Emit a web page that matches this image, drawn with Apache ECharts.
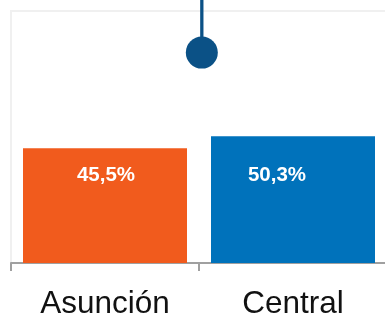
<!DOCTYPE html>
<html>
<head>
<meta charset="utf-8">
<script src="https://cdn.jsdelivr.net/npm/echarts@6/dist/echarts.min.js"></script>
<style>
  html, body { margin: 0; padding: 0; background: #fff; }
  #chart { width: 385px; height: 314px; }
</style>
</head>
<body>
<div id="chart"></div>
<script>
const categories = ['Asunción', 'Central']
const shares = [45.5, 50.3]
const barColors = ['#F15B1D', '#0072BB']
// lollipop marker sitting on the boundary between the two categories
const markerX = 1.015
const markerValue = 83.5
const markerTop = 140

const chart = echarts.init(document.getElementById('chart'))

const option = {
  animation: false,
  grid: {
    left: 11,
    top: 11,
    width: 376,
    bottom: 51,
    show: true,
    borderColor: '#f0f0f0',
    borderWidth: 2,
    outerBoundsMode: 'none'
  },
  xAxis: [
    {
      type: 'category',
      data: categories,
      axisLine: { lineStyle: { color: '#a0a0a0', width: 2 } },
      axisTick: { show: true, length: 8, lineStyle: { color: '#a0a0a0', width: 2 } },
      axisLabel: {
        color: '#111',
        fontSize: 31.5,
        fontFamily: 'Liberation Sans, Arial, sans-serif',
        margin: 25
      }
    },
    {
      type: 'value',
      min: 0,
      max: 2,
      show: false
    }
  ],
  yAxis: {
    type: 'value',
    min: 0,
    max: 100,
    show: false,
    splitLine: { show: false }
  },
  series: [
    {
      type: 'bar',
      barWidth: 164,
      data: shares.map((v, i) => ({
        value: v,
        itemStyle: { color: barColors[i] },
        label: { offset: [i === 1 ? -16 : 1, 0] }
      })),
      label: {
        show: true,
        position: 'insideBottom',
        distance: 77,
        color: '#fff',
        fontSize: 20.5,
        fontWeight: 'bold',
        fontFamily: 'Liberation Sans, Arial, sans-serif',
        formatter: p => p.value.toFixed(1).replace('.', ',') + '%'
      }
    },
    {
      type: 'line',
      xAxisIndex: 1,
      clip: false,
      showSymbol: false,
      lineStyle: { color: '#0B5186', width: 3.3 },
      data: [[markerX, markerValue], [markerX, markerTop]],
      z: 3
    },
    {
      type: 'scatter',
      xAxisIndex: 1,
      symbolSize: 32,
      itemStyle: { color: '#0B5186', opacity: 1 },
      data: [[markerX, markerValue]],
      z: 4
    }
  ]
}

chart.setOption(option)
window.addEventListener('resize', () => {
  chart.resize()
})
</script>
</body>
</html>
